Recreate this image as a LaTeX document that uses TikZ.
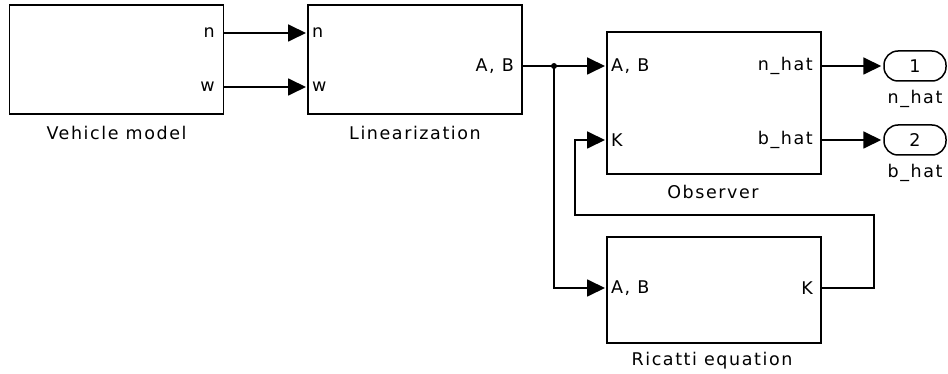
\documentclass[tikz,border=0pt]{standalone}
\usepackage{fontspec}
\setmainfont{DejaVu Sans}[LetterSpace=9]
\usetikzlibrary{arrows.meta}

\begin{document}
\begin{tikzpicture}[x=1pt,y=-1pt,
  lw/.style={line width=1.8pt},
  blk/.style={draw, lw, inner sep=0pt, minimum width=214pt},
  outport/.style={draw, line width=1.5pt, rounded corners=14pt, minimum width=62pt,
                  minimum height=30pt, inner sep=0pt, font=\fontsize{17.5}{20}\selectfont},
  txt/.style={inner sep=0pt, font=\fontsize{17.5}{20}\selectfont},
  wire/.style={lw},
  sig/.style={lw, shorten >=2pt, -{Triangle[length=18pt,width=17pt]}},
]
\useasboundingbox (0,0) rectangle (948,374);

% blocks
\node[blk, minimum height=109pt] (veh) at (116.5,59.5) {};
\node[blk, minimum height=109pt] (lin) at (415,59.5) {};
\node[blk, minimum height=142pt] (obs) at (714,103) {};
\node[blk, minimum height=106pt] (ric) at (714,290) {};

% block names
\node[txt] (vehname) at (116.5,133) {Vehicle model};
\node[txt] (linname) at (415,133) {Linearization};
\node[txt] (obsname) at (713,192) {Observer};
\node[txt] (ricname) at (712,361) {Ricatti equation};

% ports
\coordinate (veh-n) at (223,33);
\coordinate (veh-w) at (223,87);
\coordinate (lin-n) at (308,33);
\coordinate (lin-w) at (308,87);
\coordinate (lin-ab) at (522,66);
\coordinate (obs-ab) at (607,66);
\coordinate (obs-k) at (607,140);
\coordinate (obs-n) at (821,66);
\coordinate (obs-b) at (821,140);
\coordinate (ric-ab) at (607,288);
\coordinate (ric-k) at (821,288);

% port labels
\node[txt, anchor=east] (l1) at ([xshift=-8pt]veh-n) {n};
\node[txt, anchor=east] (l2) at ([xshift=-8pt]veh-w) {w};
\node[txt, anchor=west] (l3) at ([xshift=4pt]lin-n) {n};
\node[txt, anchor=west] (l4) at ([xshift=4pt]lin-w) {w};
\node[txt, anchor=east] (l5) at ([xshift=-8pt]lin-ab) {A, B};
\node[txt, anchor=west] (l6) at ([xshift=4pt]obs-ab) {A, B};
\node[txt, anchor=west] (l7) at ([xshift=4pt]obs-k) {K};
\node[txt, anchor=east] (l8) at ([xshift=-8pt]obs-n) {n\_hat};
\node[txt, anchor=east] (l9) at ([xshift=-8pt]obs-b) {b\_hat};
\node[txt, anchor=west] (l10) at ([xshift=4pt]ric-ab) {A, B};
\node[txt, anchor=east] (l11) at ([xshift=-8pt]ric-k) {K};

% outports
\node[outport] (out1) at (915,66) {1};
\node[outport] (out2) at (915,140) {2};
\node[txt] (out1name) at (915,99) {n\_hat};
\node[txt] (out2name) at (915,173) {b\_hat};

% branch point
\coordinate (br) at (554,66);
\fill (br) circle (3pt);

% connectors
\draw[sig] (veh-n) -- (lin-n);
\draw[sig] (veh-w) -- (lin-w);
\draw[wire] (lin-ab) -- (br);
\draw[sig] (br) -- (obs-ab);
\draw[sig] (br) |- (ric-ab);
\draw[sig] (obs-n) -- (out1.west);
\draw[sig] (obs-b) -- (out2.west);
\coordinate (fb1) at (874,215);
\coordinate (fb2) at (575,215);
\draw[sig] (ric-k) -| (fb1) -- (fb2) |- (obs-k);
\end{tikzpicture}
\end{document}
